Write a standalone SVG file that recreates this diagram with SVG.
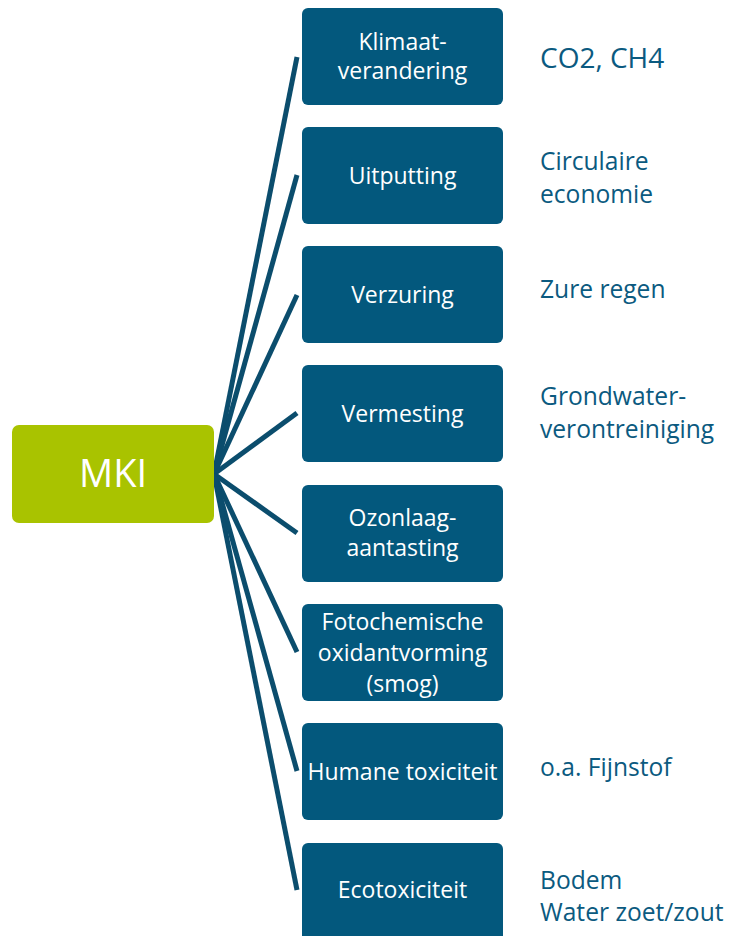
<svg xmlns="http://www.w3.org/2000/svg" width="730" height="936" viewBox="0 0 730 936">
<style>
.box{fill:#03587d;}
.bt{fill:#ffffff;font-family:"Open Sans","Liberation Sans",sans-serif;font-size:23px;text-anchor:middle;}
.st{fill:#0b5a80;font-family:"Open Sans","Liberation Sans",sans-serif;font-size:24.6px;}
.big{font-size:28px;}
.ln{stroke:#0b4d6d;stroke-width:5;fill:none;stroke-linecap:butt;}
</style>
<rect width="730" height="936" fill="#ffffff"/>
<g id="connectors">
<line class="ln" x1="214" y1="474" x2="297" y2="57"/>
<line class="ln" x1="214" y1="474" x2="297" y2="175"/>
<line class="ln" x1="214" y1="474" x2="297" y2="295"/>
<line class="ln" x1="214" y1="474" x2="297" y2="413"/>
<line class="ln" x1="214" y1="474" x2="297" y2="533"/>
<line class="ln" x1="214" y1="474" x2="297" y2="652"/>
<line class="ln" x1="214" y1="474" x2="297" y2="771"/>
<line class="ln" x1="214" y1="474" x2="297" y2="890"/>
</g>
<g id="mki">
<rect x="12" y="425" width="202" height="98" rx="7" fill="#a9c300"/>
<text x="113" y="487" fill="#ffffff" font-family="'Open Sans','Liberation Sans',sans-serif" font-size="38" text-anchor="middle">MKI</text>
</g>
<g id="n1"><rect class="box" x="302" y="8" width="201" height="97" rx="6"/>
<text class="bt" x="402.5" y="50">Klimaat-</text><text class="bt" x="402.5" y="79">verandering</text></g>
<g id="n2"><rect class="box" x="302" y="127" width="201" height="97" rx="6"/>
<text class="bt" x="402.5" y="184">Uitputting</text></g>
<g id="n3"><rect class="box" x="302" y="246" width="201" height="97" rx="6"/>
<text class="bt" x="402.5" y="303">Verzuring</text></g>
<g id="n4"><rect class="box" x="302" y="365" width="201" height="97" rx="6"/>
<text class="bt" x="402.5" y="422">Vermesting</text></g>
<g id="n5"><rect class="box" x="302" y="485" width="201" height="97" rx="6"/>
<text class="bt" x="402.5" y="526">Ozonlaag-</text><text class="bt" x="402.5" y="556">aantasting</text></g>
<g id="n6"><rect class="box" x="302" y="604" width="201" height="97" rx="6"/>
<text class="bt" x="402.5" y="630">Fotochemische</text><text class="bt" x="402.5" y="661">oxidantvorming</text><text class="bt" x="402.5" y="692">(smog)</text></g>
<g id="n7"><rect class="box" x="302" y="723" width="201" height="97" rx="6"/>
<text class="bt" x="402.5" y="780">Humane toxiciteit</text></g>
<g id="n8"><rect class="box" x="302" y="843" width="201" height="100" rx="6"/>
<text class="bt" x="402.5" y="898">Ecotoxiciteit</text></g>
<g id="labels">
<text class="st big" x="540" y="68">CO2, CH4</text>
<text class="st" x="540" y="170">Circulaire</text>
<text class="st" x="540" y="203">economie</text>
<text class="st" x="540" y="298">Zure regen</text>
<text class="st" x="540" y="405">Grondwater-</text>
<text class="st" x="540" y="438">verontreiniging</text>
<text class="st" x="540" y="776">o.a. Fijnstof</text>
<text class="st" x="540" y="889">Bodem</text>
<text class="st" x="540" y="921">Water zoet/zout</text>
</g>
</svg>
